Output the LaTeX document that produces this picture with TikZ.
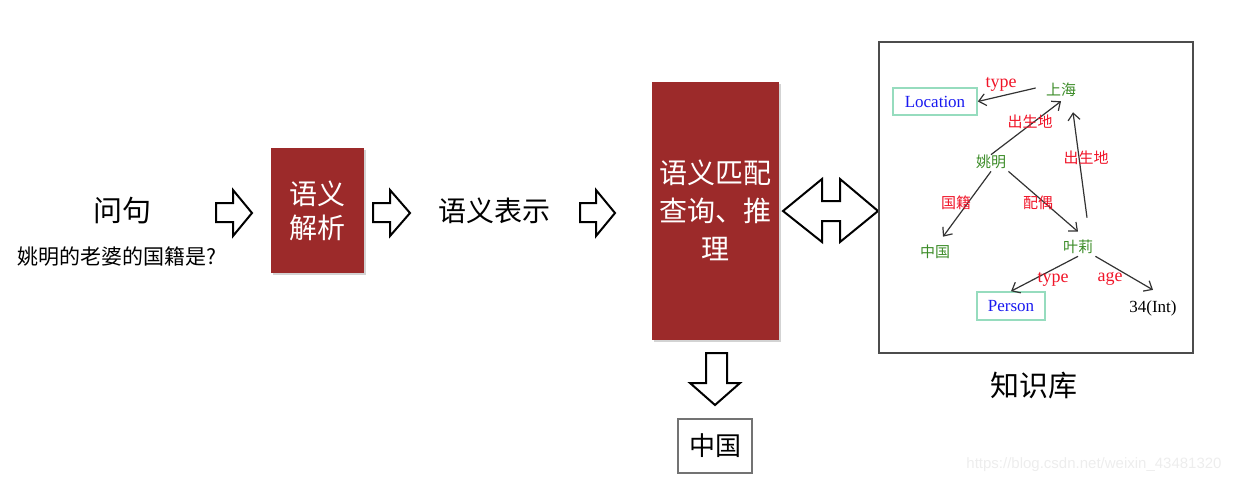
\documentclass[tikz,border=0pt]{standalone}
\usepackage{fontspec}
\setmainfont{Noto Sans CJK SC}
\newfontfamily\kbfont{Liberation Serif}
\newfontfamily\wmfont{Liberation Sans}
\usetikzlibrary{arrows.meta,shadows}
\definecolor{boxred}{RGB}{156,42,42}
\definecolor{kbgreen}{RGB}{60,140,40}
\definecolor{kbred}{RGB}{240,20,40}
\definecolor{kbblue}{RGB}{25,25,240}
\definecolor{kbteal}{RGB}{150,220,190}
\newcommand\myfs[2]{\fontsize{#1pt}{#2pt}\selectfont}
\tikzset{
  redbox/.style={fill=boxred, draw=none, text=white, align=center,
    drop shadow={opacity=0.35, shadow xshift=0.8pt, shadow yshift=-0.8pt}},
  blockarrow/.style={draw=black, line width=1pt, fill=white, line join=miter},
  maintext/.style={font=\myfs{14.5}{18}, inner sep=0pt},
  kbent/.style={text=kbgreen, font=\myfs{7.5}{9}, inner sep=1pt},
  kbcls/.style={draw=kbteal, line width=0.8pt, text=kbblue, font=\kbfont\myfs{8.5}{10}, inner sep=0pt},
  kblab/.style={text=kbred, inner sep=0pt},
  kbedge/.style={draw=black!80, line width=0.6pt, -{Straight Barb[length=3.5pt,width=6pt]}}
}
\begin{document}
\begin{tikzpicture}[x=0.5pt,y=-0.5pt]
\useasboundingbox (0,0) rectangle (1240,483);

% question
\node[maintext] (q) at (122,211) {问句};
\node[font=\myfs{10.5}{12}, inner sep=0pt] (qtext) at (117,257) {姚明的老婆的国籍是?};

% arrow 1
\draw[blockarrow] (216,203) -- (233,203) -- (233,190) -- (252,213) -- (233,236) -- (233,222) -- (216,222) -- cycle;

% semantic parsing box
\node[redbox, minimum width=46.5pt, minimum height=62.5pt, font=\myfs{14}{17}] (parse) at (317.5,210.5) {语义\\解析};

% arrow 2
\draw[blockarrow] (373,203) -- (390,203) -- (390,190) -- (410,213) -- (390,236) -- (390,222) -- (373,222) -- cycle;

% semantic representation
\node[maintext, font=\myfs{14}{17}] (rep) at (494,211) {语义表示};

% arrow 3
\draw[blockarrow] (580,203) -- (596,203) -- (596,190) -- (615,213) -- (596,236) -- (596,222) -- (580,222) -- cycle;

% matching box
\node[redbox, minimum width=63.5pt, minimum height=129pt] (match) at (715.5,211) {};
\node[text=white, font=\myfs{14}{19}, align=center, inner sep=0pt] (matchtext) at (715,210) {语义匹配\\查询、推\\理};

% double arrow
\draw[blockarrow] (783,211) -- (822,179) -- (822,201) -- (840,201) -- (840,179) -- (878,211) -- (840,242) -- (840,221) -- (822,221) -- (822,242) -- cycle;

% down arrow
\draw[blockarrow] (706,353) -- (727,353) -- (727,383) -- (740,383) -- (715,405) -- (690,383) -- (706,383) -- cycle;

% result
\node[draw=black!55, line width=1.2pt, minimum width=37pt, minimum height=27pt, font=\myfs{13}{16}, inner sep=0pt] (res) at (715,446) {中国};

% knowledge base
\node[draw=black!70, line width=0.6pt, minimum width=157pt, minimum height=155.5pt] (kb) at (1036,197.5) {};
\node[maintext] (kblabel) at (1034,386) {知识库};

\node[kbcls, minimum width=42pt, minimum height=13.5pt] (loc) at (935,101.5) {Location};
\node[kbcls, minimum width=34pt, minimum height=14pt] (per) at (1011,306) {Person};
\node[kbent] (sh) at (1061,90) {上海};
\node[kbent] (ym) at (991,162) {姚明};
\node[kbent] (zg) at (935,252) {中国};
\node[kbent] (yl) at (1078,247) {叶莉};
\node[inner sep=1pt, font=\kbfont\myfs{8.5}{10}] (int) at (1153,308) {34(Int)};

\draw[kbedge] ([xshift=-4pt,yshift=1pt]sh.west) -- (loc.east);
\draw[kbedge] ([yshift=-1pt]ym.north) -- ([yshift=-1pt]sh.south);
\draw[kbedge] ([xshift=4.5pt,yshift=10pt]yl.north) -- ([xshift=6pt,yshift=-6.5pt]sh.south);
\draw[kbedge] (ym.south) -- ([xshift=4pt,yshift=3pt]zg.north);
\draw[kbedge] (ym.south east) -- ([yshift=3pt]yl.north);
\draw[kbedge] (yl.south) -- (per.north);
\draw[kbedge] (yl.south east) -- ([yshift=4pt]int.north);

\node[kblab, font=\kbfont\myfs{9}{10}] (l1) at (1001,84) {type};
\node[kblab, font=\myfs{7.5}{9}] (l2) at (1030,122) {出生地};
\node[kblab, font=\myfs{7.5}{9}] (l3) at (1086,158) {出生地};
\node[kblab, font=\myfs{7.5}{9}] (l4) at (956,203) {国籍};
\node[kblab, font=\myfs{7.5}{9}] (l5) at (1038,203) {配偶};
\node[kblab, font=\kbfont\myfs{9}{10}] (l6) at (1053,279) {type};
\node[kblab, font=\kbfont\myfs{9}{10}] (l7) at (1110,279) {age};

% watermark
\node[text=black!7, font=\wmfont\myfs{7.5}{9}, inner sep=0pt] (wm) at (1094,465) {https://blog.csdn.net/weixin\_43481320};
\end{tikzpicture}
\end{document}
